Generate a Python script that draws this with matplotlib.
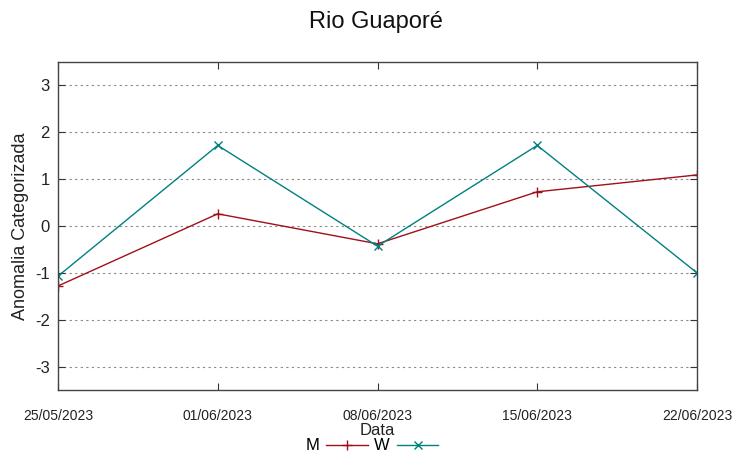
import matplotlib
matplotlib.use("Agg")
import matplotlib.pyplot as plt
from matplotlib.lines import Line2D

plt.rcParams['font.family'] = ['Liberation Sans', 'DejaVu Sans']

dates = ["25/05/2023", "01/06/2023", "08/06/2023", "15/06/2023", "22/06/2023"]
m_values = [-1.28, 0.26, -0.38, 0.73, 1.09]
w_values = [-1.07, 1.72, -0.43, 1.72, -1.0]
yticks = [-3, -2, -1, 0, 1, 2, 3]

red = "#a0101a"
teal = "#008080"

fig = plt.figure(figsize=(7.52, 4.59), dpi=100)
ax = fig.add_axes([58/752, 1-390/459, (697-58)/752, (390-62)/459])

x = list(range(len(dates)))
ax.plot(x, m_values, color=red, lw=1.0, marker="+", ms=7, mew=1.0, label="M")
ax.plot(x, w_values, color=teal, lw=1.0, marker="x", ms=6, mew=1.0, label="W")

ax.set_xlim(0, len(dates)-1)
ax.set_ylim(-3.5, 3.5)
ax.set_xticks(x)
ax.set_xticklabels(dates, fontsize=10, color="#222222")
ax.set_yticks(yticks)
ax.set_yticklabels([str(v) for v in yticks], fontsize=12, color="#222222")
ax.tick_params(axis='both', direction='in', top=True, right=True, length=5, width=0.8, color="#333333")
ax.tick_params(axis='x', pad=14)
ax.tick_params(axis='y', pad=6)
ax.grid(axis='y', linestyle=(0, (2, 3)), color="#888888", lw=0.8)
for s in ax.spines.values():
    s.set_color("#444444")
    s.set_linewidth(1.0)

ax.set_ylabel("Anomalia Categorizada", fontsize=13, color="#222222", labelpad=4)
ax.set_xlabel("Data", fontsize=12, color="#222222", labelpad=0)
fig.text(376/752, 1-22/459, "Rio Guaporé", ha="center", va="center", fontsize=17, color="#111111")

# legend
handles = [Line2D([], [], color=red, lw=1.0, marker="+", ms=7, mew=1.0),
           Line2D([], [], color=teal, lw=1.0, marker="x", ms=6, mew=1.0)]
leg = fig.legend(handles, ["M", "W"], loc="center", bbox_to_anchor=(372/752, 1-446/459),
                 ncol=2, frameon=False, markerfirst=False, fontsize=12,
                 handlelength=2.5, handletextpad=0.4, columnspacing=0.4, borderpad=0)

fig.savefig("out.png", dpi=100)
